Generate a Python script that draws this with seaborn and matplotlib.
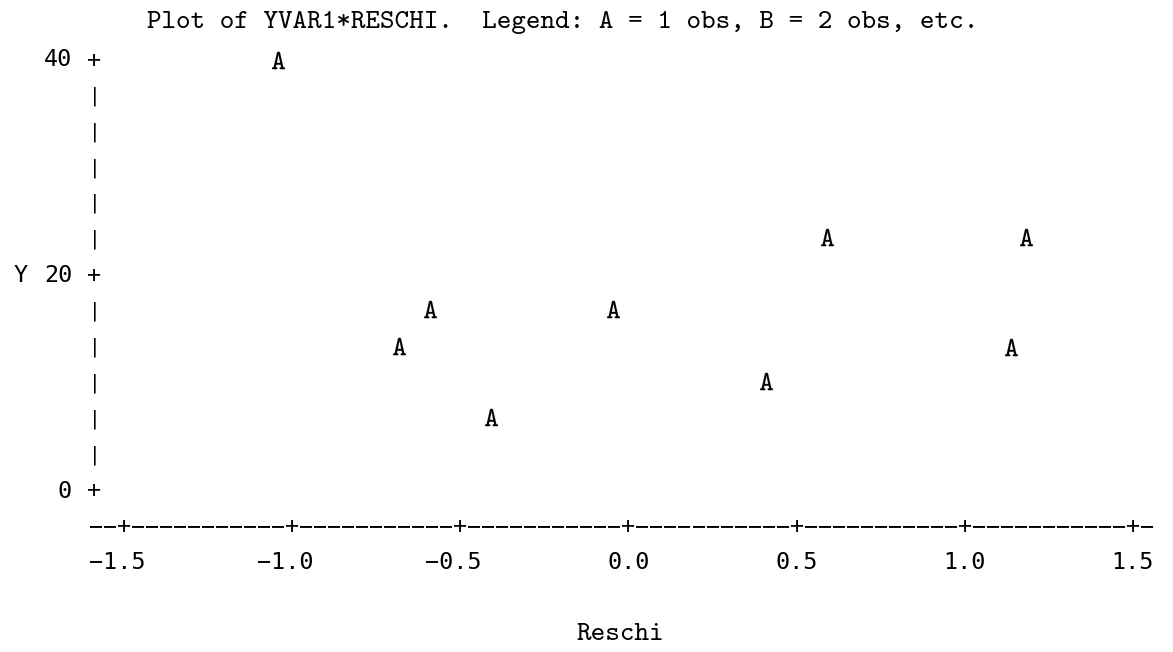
import matplotlib
matplotlib.use("Agg")
import matplotlib.pyplot as plt
import seaborn as sns
import pandas as pd

# ---- data ----
reschi = [-1.042, 0.590, 1.182, -0.590, -0.046, -0.682, 1.137, 0.409, -0.409]
yvar1 = [40.0, 23.6, 23.6, 16.85, 16.85, 13.5, 13.4, 10.2, 6.85]
x_ticks = [-1.5, -1.0, -0.5, 0.0, 0.5, 1.0, 1.5]
x_tick_labels = ["\u22121.5", "\u22121.0", "\u22120.5", "0.0", "0.5", "1.0", "1.5"]
y_ticks = [0, 20, 40]
y_tick_labels = ["0", "20", "40"]
title = "Plot of YVAR1*RESCHI.  Legend: A = 1 obs, B = 2 obs, etc."
x_label = "Reschi"
y_label = "Y"

sns.set_style("white")
plt.rcParams["mathtext.fontset"] = "cm"

W, H = 1173, 652
fig = plt.figure(figsize=(W / 100, H / 100), dpi=100)
ax = fig.add_axes([0, 0, 1, 1])
ax.axis("off")

# pixel <-> data layout (line-printer grid)
X0PX, X1PX = 124.0, 1133.0          # -1.5 and 1.5
YTOPPX, YBOTPX = 60.0, 491.0        # 40 and 0
xs = (X1PX - X0PX) / (x_ticks[-1] - x_ticks[0])
ys = (YBOTPX - YTOPPX) / (y_ticks[-1] - y_ticks[0])
def px2x(px):
    return x_ticks[0] + (px - X0PX) / xs
def px2y(py):
    return y_ticks[0] + (YBOTPX - py) / ys

df = pd.DataFrame({"Reschi": reschi, "YVAR1": yvar1})
sns.scatterplot(data=df, x="Reschi", y="YVAR1", marker=r"$\mathtt{A}$",
                s=155, color="black", edgecolor="black", linewidth=0.1,
                legend=False, ax=ax)
ax.set_xlim(px2x(0), px2x(W))
ax.set_ylim(px2y(H), px2y(0))

mono = "DejaVu Sans Mono"
tt = "cmtt10"
FS = 16.8

# vertical axis: one row per 1/12 of the range
n_rows = 12
row_h = (y_ticks[-1] - y_ticks[0]) / n_rows
col_w = (x_ticks[1] - x_ticks[0]) / 12
yaxis_x = px2x(94.5)
for r in range(n_rows + 1):
    yv = y_ticks[0] + r * row_h
    is_tick = any(abs(yv - t) < 1e-6 for t in y_ticks)
    ax.text(yaxis_x, yv, "+" if is_tick else "|", family=mono,
            fontsize=FS if is_tick else 14, ha="center", va="center",
            color="black")
for t, lab in zip(y_ticks, y_tick_labels):
    ax.text(px2x(72), t, lab, family=mono, fontsize=FS, ha="right",
            va="center", color="black")
ax.text(px2x(21), y_ticks[1], y_label, family=mono, fontsize=FS,
        ha="center", va="center", color="black")

# horizontal axis line of dashes and plus signs
xaxis_y = y_ticks[0] - row_h
n_cols = int(round((x_ticks[-1] - x_ticks[0]) / col_w)) + 4
for c in range(n_cols):
    xv = x_ticks[0] + (c - 2) * col_w
    is_tick = any(abs(xv - t) < 1e-6 for t in x_ticks)
    ax.text(xv, xaxis_y, "+" if is_tick else "\u2212", family=mono, fontsize=FS,
            ha="center", va="center", color="black")
for t, lab in zip(x_ticks, x_tick_labels):
    ax.text(t + 1.5 * col_w, y_ticks[0] - 2 * row_h, lab, family=mono,
            fontsize=FS, ha="right", va="center", color="black")

ax.text(px2x(620), y_ticks[0] - 4 * row_h, x_label, family=tt, fontsize=20,
        ha="center", va="center", color="black")
fig.text(562.5 / W, 1 - 22 / H, title, family=tt, fontsize=20,
         ha="center", va="center", color="black")

fig.savefig("out.png", dpi=100, facecolor="white")
